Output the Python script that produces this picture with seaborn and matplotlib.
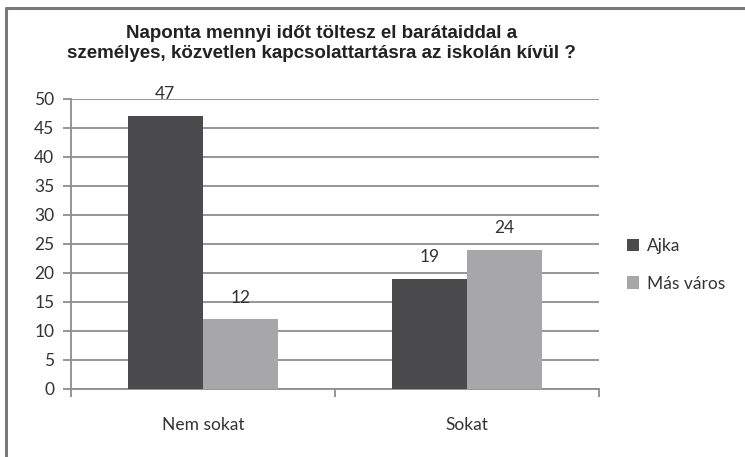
import matplotlib
matplotlib.use("Agg")
import matplotlib.pyplot as plt
import matplotlib.lines as mlines
from matplotlib.ticker import FixedLocator
import pandas as pd
import seaborn as sns

# adatok
categories = ["Nem sokat", "Sokat"]
series_names = ["Ajka", "Más város"]
ajka = [47, 19]
mas_varos = [12, 24]
colors = ["#4b4b4d", "#a7a7a9"]
title = "Naponta mennyi időt töltesz el barátaiddal a\nszemélyes, közvetlen kapcsolattartásra az iskolán kívül ?"

df = pd.DataFrame({
    "kategoria": categories * 2,
    "sorozat": [series_names[0]] * 2 + [series_names[1]] * 2,
    "ertek": ajka + mas_varos,
})

sns.set_style("white")
plt.rcParams["font.family"] = ["Lato", "DejaVu Sans"]

fig = plt.figure(figsize=(7.45, 4.57), dpi=100)
ax = fig.add_axes([0.0953, 0.1488, 0.7087, 0.6346])

sns.barplot(data=df, x="kategoria", y="ertek", hue="sorozat", palette=colors,
            width=0.57, gap=0, saturation=1, ax=ax, zorder=3, edgecolor="none")

for cont in ax.containers:
    ax.bar_label(cont, padding=10, fontsize=12.5, color="#333333")

ax.set_xlim(-0.5, 1.5)
ax.set_ylim(0, 50)
ax.set_yticks(range(0, 51, 5))
ax.yaxis.grid(True, color="#8e8e8e", linewidth=1.3, zorder=0)
ax.set_axisbelow(True)
ax.set_xlabel("")
ax.set_ylabel("")

for s in ["top", "right"]:
    ax.spines[s].set_visible(False)
for s in ["left", "bottom"]:
    ax.spines[s].set_color("#8e8e8e")
    ax.spines[s].set_linewidth(1.3)

ax.tick_params(axis="y", which="major", left=True, length=6, width=1.3, color="#8e8e8e",
               labelsize=12.5, labelcolor="#333333", pad=6)
ax.tick_params(axis="x", which="major", bottom=False, labelsize=12.5, labelcolor="#333333", pad=17)
ax.xaxis.set_minor_locator(FixedLocator([-0.5, 0.5, 1.5]))
ax.tick_params(axis="x", which="minor", bottom=True, length=6, width=1.3, color="#8e8e8e")

leg = ax.legend(loc="upper left", bbox_to_anchor=(1.04, 0.545), frameon=False,
                fontsize=12.5, handlelength=0.7, handleheight=0.7, handletextpad=0.45,
                labelspacing=1.25, borderaxespad=0)
for t in leg.get_texts():
    t.set_color("#333333")

fig.text(0.431, 0.905, title, ha="center", va="center", fontsize=13.5, fontweight="bold",
         family=["Liberation Sans", "DejaVu Sans"], color="#222222", linespacing=1.2)

# keret (csak bal és felső)
top_y = 1 - 8 / 457
left_x = 6 / 745
fig.add_artist(mlines.Line2D([left_x, 1], [top_y, top_y], color="#7a7a7a", linewidth=2.2))
fig.add_artist(mlines.Line2D([left_x, left_x], [0, top_y], color="#7a7a7a", linewidth=2.2))

fig.savefig("out.png", dpi=100, facecolor="white")
